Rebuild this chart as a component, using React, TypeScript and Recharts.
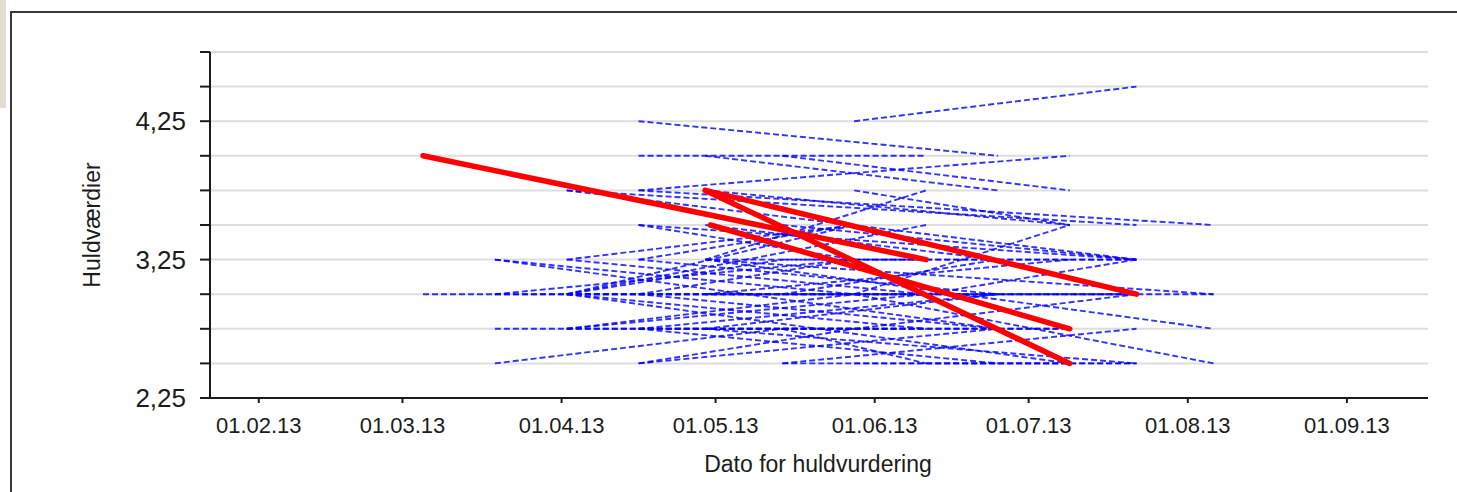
import { CartesianGrid, Line, LineChart, XAxis, YAxis } from 'recharts'

// dates (one tick per month)
const xTicks = ['2013-02-01', '2013-03-01', '2013-04-01', '2013-05-01', '2013-06-01', '2013-07-01', '2013-08-01', '2013-09-01']
const yTicks = [2.25, 2.5, 2.75, 3, 3.25, 3.5, 3.75, 4, 4.25, 4.5, 4.75]
const yLabelled = [2.25, 3.25, 4.25]

// [fra dato, fra værdi, til dato, til værdi]
type Segment = [string, number, string, number]

const blueSegments: Segment[] = [
  ['2013-05-28', 4.25, '2013-07-22', 4.5],
  ['2013-04-16', 4.25, '2013-06-25', 4.0],
  ['2013-04-16', 4.0, '2013-06-11', 4.0],
  ['2013-04-29', 4.0, '2013-06-25', 3.75],
  ['2013-05-14', 4.0, '2013-07-09', 3.75],
  ['2013-04-16', 3.75, '2013-07-09', 4.0],
  ['2013-04-02', 3.75, '2013-07-22', 3.25],
  ['2013-04-02', 3.75, '2013-07-22', 3.5],
  ['2013-04-16', 3.75, '2013-08-06', 3.5],
  ['2013-05-28', 3.75, '2013-07-09', 3.5],
  ['2013-04-29', 3.75, '2013-07-09', 3.5],
  ['2013-04-29', 3.25, '2013-06-11', 3.75],
  ['2013-04-16', 3.5, '2013-05-28', 3.25],
  ['2013-04-29', 3.5, '2013-06-25', 3.25],
  ['2013-05-14', 3.5, '2013-07-22', 3.25],
  ['2013-04-16', 3.5, '2013-07-22', 3.25],
  ['2013-05-28', 3.0, '2013-07-09', 3.5],
  ['2013-04-16', 3.25, '2013-05-28', 3.5],
  ['2013-04-02', 3.25, '2013-05-28', 3.5],
  ['2013-03-19', 3.25, '2013-05-28', 3.0],
  ['2013-03-19', 3.25, '2013-06-25', 2.75],
  ['2013-04-02', 3.0, '2013-05-28', 3.5],
  ['2013-04-02', 3.0, '2013-06-11', 3.5],
  ['2013-04-02', 3.0, '2013-05-14', 3.25],
  ['2013-05-14', 3.25, '2013-07-22', 3.25],
  ['2013-05-28', 3.25, '2013-07-22', 3.25],
  ['2013-06-11', 3.0, '2013-07-22', 3.25],
  ['2013-04-29', 3.25, '2013-08-06', 3.0],
  ['2013-04-29', 3.25, '2013-08-06', 2.75],
  ['2013-03-05', 3.0, '2013-05-14', 3.0],
  ['2013-03-19', 3.0, '2013-07-22', 3.0],
  ['2013-04-02', 3.0, '2013-06-11', 3.0],
  ['2013-04-29', 3.0, '2013-08-06', 3.0],
  ['2013-05-28', 3.0, '2013-08-06', 2.5],
  ['2013-04-02', 3.0, '2013-07-09', 2.5],
  ['2013-04-02', 3.0, '2013-06-11', 2.75],
  ['2013-04-16', 3.0, '2013-06-25', 2.75],
  ['2013-04-02', 2.75, '2013-06-11', 3.0],
  ['2013-04-16', 2.75, '2013-06-25', 3.0],
  ['2013-03-19', 2.75, '2013-05-28', 2.75],
  ['2013-04-02', 2.75, '2013-07-09', 2.75],
  ['2013-04-16', 2.75, '2013-06-11', 2.75],
  ['2013-05-14', 2.75, '2013-07-09', 2.75],
  ['2013-04-29', 2.75, '2013-07-22', 2.5],
  ['2013-04-16', 2.75, '2013-06-25', 2.5],
  ['2013-05-14', 2.75, '2013-06-11', 2.5],
  ['2013-03-19', 2.5, '2013-05-14', 2.75],
  ['2013-04-16', 2.5, '2013-05-28', 2.75],
  ['2013-05-14', 2.5, '2013-07-22', 2.5],
  ['2013-06-11', 2.5, '2013-07-22', 2.5],
  ['2013-05-14', 2.5, '2013-07-22', 2.75],
  ['2013-04-29', 3.0, '2013-07-09', 3.25],
  ['2013-05-28', 2.75, '2013-07-22', 3.0],
  ['2013-04-16', 3.25, '2013-06-25', 3.0],
  ['2013-03-19', 3.0, '2013-05-28', 3.25],
  ['2013-05-14', 3.0, '2013-06-25', 3.25],
  ['2013-04-02', 3.25, '2013-06-11', 3.0],
  ['2013-04-16', 3.0, '2013-05-28', 3.25],
  ['2013-04-02', 2.75, '2013-05-28', 3.0],
  ['2013-04-29', 2.75, '2013-06-25', 3.0],
  ['2013-04-16', 2.5, '2013-06-25', 2.75],
  ['2013-05-28', 2.5, '2013-07-09', 2.5],
  ['2013-04-29', 3.25, '2013-06-11', 3.25],
  ['2013-05-14', 3.0, '2013-07-22', 3.0],
]

const redSegments: Segment[] = [
  ['2013-03-05', 4.0, '2013-06-11', 3.25],
  ['2013-04-29', 3.75, '2013-07-22', 3.0],
  ['2013-04-29', 3.75, '2013-07-09', 2.5],
  ['2013-04-30', 3.5, '2013-07-09', 2.75],
]

const START = Date.parse('2013-01-01')
const DAY = 86400000
const toDay = (iso: string) => (Date.parse(iso) - START) / DAY

const fmtDate = (d: number) => {
  const dt = new Date(START + Math.round(d) * DAY)
  const p = (n: number) => String(n).padStart(2, '0')
  return `${p(dt.getUTCDate())}.${p(dt.getUTCMonth() + 1)}.${String(dt.getUTCFullYear()).slice(2)}`
}

const toPoints = (s: Segment) => [
  { x: toDay(s[0]), y: s[1] },
  { x: toDay(s[2]), y: s[3] },
]

const font = '"Liberation Sans", Arial, sans-serif'
const ink = '#1c1c1c'

export default function App() {
  return (
    <div style={{ position: 'absolute', left: 0, top: 0, width: 1457, height: 492, background: '#fff', overflow: 'hidden', fontFamily: font }}>
      <div style={{ position: 'absolute', left: 0, top: 0, width: 6, height: 108, background: '#e2dfd2' }} />
      <div style={{ position: 'absolute', left: 10, top: 11, width: 1460, height: 500, borderTop: '2px solid #3a3a3a', borderLeft: '2px solid #3a3a3a' }} />
      <div style={{ position: 'absolute', left: 0, top: 0 }}>
        <LineChart width={1457} height={492} margin={{ top: 52, right: 29, bottom: 0, left: 0 }}>
          <CartesianGrid vertical={false} stroke="#dedede" strokeWidth={2} />
          <XAxis
            dataKey="x"
            type="number"
            domain={[21.5, 258.8]}
            ticks={xTicks.map(toDay)}
            tickFormatter={fmtDate}
            height={94}
            tickSize={5}
            tickMargin={14}
            allowDataOverflow
            axisLine={{ stroke: ink, strokeWidth: 2 }}
            tickLine={{ stroke: ink, strokeWidth: 2 }}
            tick={{ fontSize: 22, fill: ink, fontFamily: font }}
          />
          <YAxis
            type="number"
            domain={[2.25, 4.75]}
            ticks={yTicks}
            interval={0}
            width={210}
            tickSize={10}
            tickMargin={14}
            allowDataOverflow
            tickFormatter={(v: number) => (yLabelled.includes(v) ? v.toFixed(2).replace('.', ',') : '')}
            axisLine={{ stroke: ink, strokeWidth: 2 }}
            tickLine={{ stroke: ink, strokeWidth: 2 }}
            tick={{ fontSize: 26, fill: ink, fontFamily: font }}
          />
          {blueSegments.map((s, i) => (
            <Line
              key={'b' + i}
              data={toPoints(s)}
              dataKey="y"
              type="linear"
              stroke="#0000ff"
              strokeOpacity={0.8}
              strokeWidth={1.9}
              strokeDasharray="6 3"
              dot={false}
              activeDot={false}
              isAnimationActive={false}
            />
          ))}
          {redSegments.map((s, i) => (
            <Line
              key={'r' + i}
              data={toPoints(s)}
              dataKey="y"
              type="linear"
              stroke="#ff0000"
              strokeWidth={5.5}
              strokeLinecap="round"
              dot={false}
              activeDot={false}
              isAnimationActive={false}
            />
          ))}
        </LineChart>
      </div>
      <div style={{ position: 'absolute', left: 92, top: 225, transform: 'translate(-50%, -50%) rotate(-90deg)', fontSize: 23, color: ink, whiteSpace: 'nowrap' }}>
        Huldværdier
      </div>
      <div style={{ position: 'absolute', left: 818, top: 464, transform: 'translate(-50%, -50%)', fontSize: 23, color: ink, whiteSpace: 'nowrap' }}>
        Dato for huldvurdering
      </div>
    </div>
  )
}
